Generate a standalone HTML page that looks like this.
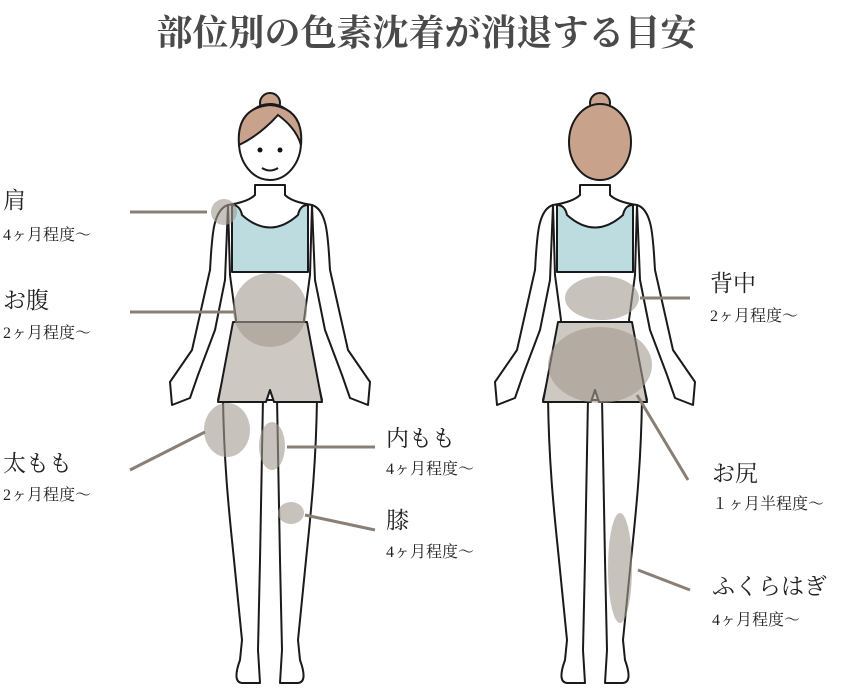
<!DOCTYPE html>
<html><head><meta charset="utf-8"><style>
body{margin:0;background:#fff;width:853px;height:689px;overflow:hidden;font-family:"Liberation Serif","Noto Serif CJK SC",serif;}
.t{position:absolute;color:#222;white-space:nowrap}
.b{font-size:23px}.s{font-size:16px}
</style></head><body>
<svg width="853" height="689" style="position:absolute;left:0;top:0">
<defs>
<g id="body" stroke="#1a1a1a" stroke-width="2" stroke-linejoin="round">
 <path d="M-42 205 C-58 210 -58 240 -60 270 L-78 350 L-100 382 L-98 405 L-80 398 L-72 375 L-55 330 L-45 280 Z" fill="#fff"/>
 <path d="M42 205 C58 210 58 240 60 270 L78 350 L100 382 L98 405 L80 398 L72 375 L55 330 L45 280 Z" fill="#fff"/>
 <path d="M-47 398 C-46 470 -40 520 -36 560 L-28 640 L-30 660 Q-38 682 -28 683 L-10 683 L-12 650 L-10 560 L-7 398 Z" fill="#fff"/>
 <path d="M47 398 C46 470 40 520 36 560 L28 640 L30 660 Q38 682 28 683 L10 683 L12 650 L10 560 L7 398 Z" fill="#fff"/>
 <path d="M-15 185 L-15 195 Q-22 202 -42 205 L-40 275 L-34 320 L-52 400 L52 400 L34 320 L40 275 L42 205 Q22 202 15 195 L15 185 Z" fill="#fff"/>
 <path d="M-38 205 L-38 272 L38 272 L38 205 Q30 205 28 215 Q0 240 -28 215 Q-30 205 -38 205 Z" fill="#bcdcdf"/>
 <path d="M-37 322 L37 322 L52 402 L4 402 L0 390 L-4 402 L-52 402 Z" fill="#cdc8c1"/>
</g>
</defs>
<use href="#body" transform="translate(270,0)"/>
<use href="#body" transform="translate(595,0)"/>
<g stroke="#1a1a1a" stroke-width="2">
<circle cx="270" cy="103" r="10" fill="#c9a28c"/>
<ellipse cx="270" cy="142" rx="31" ry="38" fill="#fff"/>
<path d="M239 145 Q236 108 270 105 Q304 108 301 145 Q296 128 278 115 Q260 135 239 145Z" fill="#c9a28c"/>
<path d="M262 168 Q270 173 278 168" fill="none"/>
</g>
<circle cx="260" cy="150" r="2.5" fill="#111"/><circle cx="280" cy="150" r="2.5" fill="#111"/>
<g stroke="#1a1a1a" stroke-width="2">
<circle cx="600" cy="103" r="10" fill="#c9a28c"/>
<ellipse cx="600" cy="142" rx="31" ry="38" fill="#c9a28c"/>
</g>
<g fill="#a39a90" fill-opacity="0.6">
<circle cx="224" cy="212" r="13"/>
<circle cx="270" cy="310" r="37"/>
<ellipse cx="227" cy="430" rx="23" ry="27"/>
<ellipse cx="272" cy="446" rx="13" ry="24"/>
<ellipse cx="291" cy="513" rx="13" ry="11"/>
<ellipse cx="602" cy="298" rx="37" ry="22"/>
<ellipse cx="600" cy="365" rx="52" ry="38"/>
<ellipse cx="620" cy="568" rx="12" ry="55"/>
</g>
<g stroke="#8a7f75" stroke-width="3">
<line x1="130" y1="212" x2="207" y2="212"/>
<line x1="130" y1="312" x2="235" y2="312"/>
<line x1="130" y1="470" x2="205" y2="432"/>
<line x1="287" y1="447" x2="375" y2="447"/>
<line x1="305" y1="515" x2="375" y2="530"/>
<line x1="640" y1="298" x2="690" y2="298"/>
<line x1="637" y1="395" x2="688" y2="480"/>
<line x1="638" y1="570" x2="690" y2="590"/>
</g>
</svg>
<div class="t" style="left:0;width:853px;top:5px;text-align:center;font-size:36px;font-weight:bold;color:#4a4a4a">部位別の色素沈着が消退する目安</div>
<div class="t b" style="left:3px;top:182px">肩</div><div class="t s" style="left:3px;top:222px">4ヶ月程度〜</div>
<div class="t b" style="left:3px;top:282px">お腹</div><div class="t s" style="left:3px;top:320px">2ヶ月程度〜</div>
<div class="t b" style="left:3px;top:445px">太もも</div><div class="t s" style="left:3px;top:482px">2ヶ月程度〜</div>
<div class="t b" style="left:386px;top:420px">内もも</div><div class="t s" style="left:386px;top:456px">4ヶ月程度〜</div>
<div class="t b" style="left:386px;top:502px">膝</div><div class="t s" style="left:386px;top:539px">4ヶ月程度〜</div>
<div class="t b" style="left:710px;top:265px">背中</div><div class="t s" style="left:710px;top:303px">2ヶ月程度〜</div>
<div class="t b" style="left:712px;top:455px">お尻</div><div class="t s" style="left:712px;top:491px">１ヶ月半程度〜</div>
<div class="t b" style="left:712px;top:568px">ふくらはぎ</div><div class="t s" style="left:712px;top:607px">4ヶ月程度〜</div>
</body></html>
